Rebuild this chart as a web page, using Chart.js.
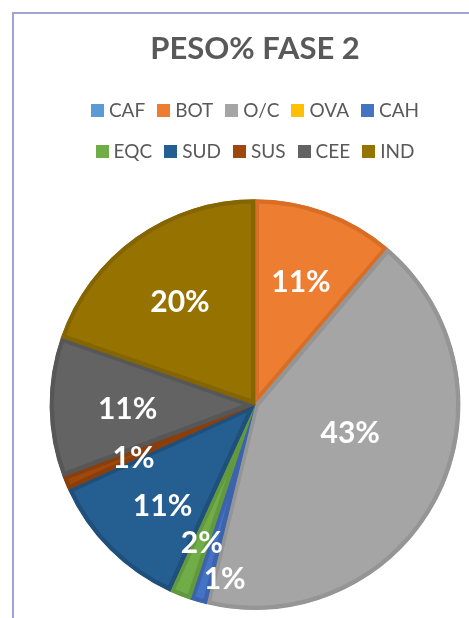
<!DOCTYPE html>
<html>
<head>
<meta charset="utf-8">
<script src="https://cdn.jsdelivr.net/npm/chart.js@4.4.1/dist/chart.umd.min.js"></script>
<style>
  body { margin: 0; background: #fff; width: 469px; height: 618px; overflow: hidden; position: relative; }
  #frame { position: absolute; left: 12px; top: 12px; width: 520px; height: 640px;
           border-left: 2px solid #a2a2d4; border-top: 2px solid #a2a2d4; }
  #wrap { position: absolute; left: 13px; top: 13px; width: 484px; height: 605px; }
  #legend { position: absolute; left: 13px; top: 0; width: 484px; font-family: Lato, sans-serif;
            font-size: 19px; color: #595959; }
  .row { position: absolute; left: 0; width: 100%; display: flex; justify-content: center;
         line-height: 20px; height: 20px; }
  .item { display: flex; align-items: center; margin: 0 6px; }
  .box { width: 13px; height: 13px; margin-right: 5px; }
</style>
</head>
<body>
<div id="frame"></div>
<div id="wrap"><canvas id="myChart"></canvas></div>
<div id="legend"></div>
<script>
var categories = ["CAF", "BOT", "O/C", "OVA", "CAH", "EQC", "SUD", "SUS", "CEE", "IND"];
var pesoFase2 = [0, 11.2, 42.6, 0, 1.3, 1.7, 11.4, 1.1, 11.0, 19.7];
var sliceColors = ['#5B9BD5', '#ED7D31', '#A5A5A5', '#FFC000', '#4472C4',
                   '#70AD47', '#255E91', '#9E480E', '#636363', '#967200'];
var sliceBorders = ['#5089bd', '#d86d26', '#959595', '#e6ad00', '#3c64ad',
                    '#62993e', '#1f507c', '#8a3e0c', '#575757', '#856500'];

// draws the percentage labels inside each slice
var pctLabels = {
    id: 'pctLabels',
    afterDatasetsDraw: function(chart, args, opts) {
        var ctx = chart.ctx;
        var meta = chart.getDatasetMeta(0);
        var values = chart.data.datasets[0].data;
        var total = values.reduce(function(a, b) { return a + b; }, 0);
        ctx.save();
        ctx.font = 'bold 30px Lato, sans-serif';
        ctx.fillStyle = '#ffffff';
        ctx.textAlign = 'center';
        ctx.textBaseline = 'middle';
        meta.data.forEach(function(arc, i) {
            if (!values[i]) return;
            var p = arc.getProps(['x', 'y', 'startAngle', 'endAngle', 'outerRadius'], true);
            var mid = (p.startAngle + p.endAngle) / 2 + (opts.shift[i] || 0) * Math.PI / 180;
            var r = p.outerRadius * (opts.radius[i] || 0.65);
            ctx.fillText(Math.round(values[i] / total * 100) + '%',
                p.x + Math.cos(mid) * r, p.y + Math.sin(mid) * r + 3);
        });
        ctx.restore();
    }
};

var ctx = document.getElementById("myChart").getContext('2d');
var myChart = new Chart(ctx, {
    type: 'pie',
    data: {
        labels: categories,
        datasets: [{
            label: 'PESO%',
            data: pesoFase2,
            backgroundColor: sliceColors,
            borderColor: sliceBorders,
            borderWidth: 4,
            borderAlign: 'inner'
        }]
    },
    options: {
        responsive: true,
        maintainAspectRatio: false,
        animation: false,
        layout: { padding: { bottom: 8 } },
        plugins: {
            legend: { display: false },
            tooltip: { enabled: false },
            title: {
                display: true,
                text: 'PESO% FASE 2',
                color: '#595959',
                font: { family: 'Lato', size: 31, weight: 'bold' },
                padding: { top: 17, bottom: 132 }
            },
            pctLabels: {
                radius: [0, 0.65, 0.48, 0, 0.85, 0.71, 0.66, 0.64, 0.62, 0.63],
                shift: [0, 0, -12, 0, -6, 0, -2, 0, 0, 0]
            }
        }
    },
    plugins: [pctLabels]
});

// html legend, two rows of five like the original
var legendDiv = document.getElementById('legend');
var items = myChart.options.plugins.legend.labels.generateLabels(myChart);
var rowTops = [100, 141];
for (var r = 0; r < 2; r++) {
    var row = document.createElement('div');
    row.className = 'row';
    row.style.top = rowTops[r] + 'px';
    items.slice(r * 5, r * 5 + 5).forEach(function(item) {
        var el = document.createElement('span');
        el.className = 'item';
        var box = document.createElement('span');
        box.className = 'box';
        box.style.background = sliceColors[item.index];
        el.appendChild(box);
        el.appendChild(document.createTextNode(item.text));
        row.appendChild(el);
    });
    legendDiv.appendChild(row);
}
</script>
</body>
</html>
